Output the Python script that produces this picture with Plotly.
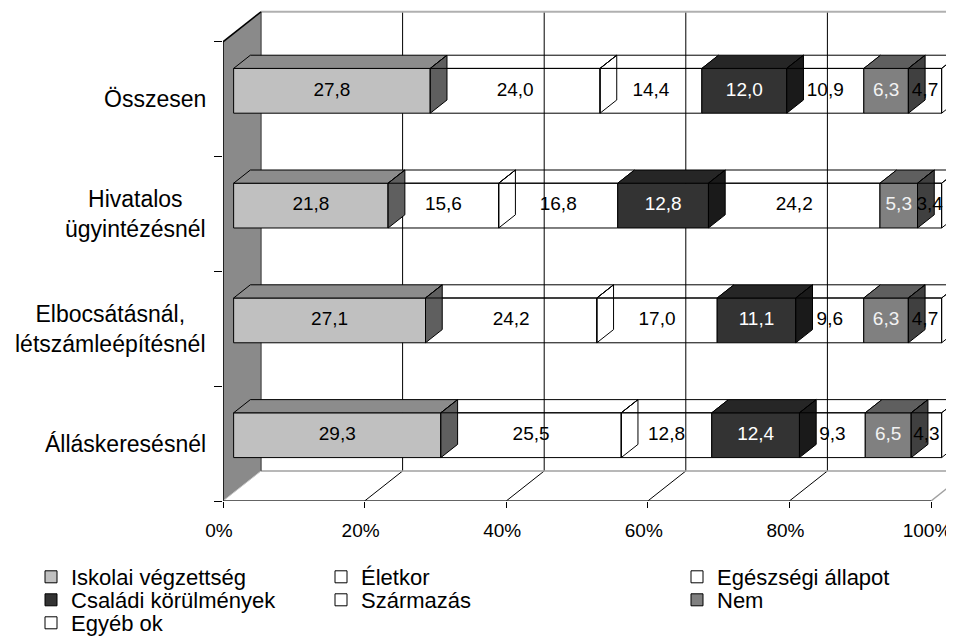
import plotly.graph_objects as go

# ---------------- data ----------------
categories = ["Álláskeresésnél",
              "Elbocsátásnál,<br>létszámleépítésnél",
              "Hivatalos<br>ügyintézésnél",
              "Összesen"]
series_names = ["Iskolai végzettség", "Életkor", "Egészségi állapot",
                "Családi körülmények", "Származás", "Nem", "Egyéb ok"]
iskolai = [29.3, 27.1, 21.8, 27.8]
eletkor = [25.5, 24.2, 15.6, 24.0]
egeszsegi = [12.8, 17.0, 16.8, 14.4]
csaladi = [12.4, 11.1, 12.8, 12.0]
szarmazas = [9.3, 9.6, 24.2, 10.9]
nem = [6.5, 6.3, 5.3, 6.3]
egyeb = [4.3, 4.7, 3.4, 4.7]
x_tick_vals = [0, 20, 40, 60, 80, 100]
x_tick_text = ["0%", "20%", "40%", "60%", "80%", "100%"]

series_values = [iskolai, eletkor, egeszsegi, csaladi, szarmazas, nem, egyeb]

# ---------------- styles ----------------
T = "rgba(255,255,255,0)"
front_col = ["#c0c0c0", T, T, "#333333", T, "#808080", T]
top_col = ["#8c8c8c", T, T, "#262626", T, "#5f5f5f", T]
side_col = ["#5f5f5f", T, T, "#1a1a1a", T, "#404040", T]
opaque = [True, False, False, True, False, True, False]
label_col = ["black", "black", "black", "white", "black", "#f2f2f2", "black"]
FONT = "Liberation Sans, Arial, sans-serif"

# legend placement (screen pixels): text start x, row centre y
legend_text_x = [71, 361, 717, 71, 361, 717, 71]
legend_row_y = [577, 577, 577, 600, 600, 600, 623]

OFF = 8                      # page body margin
W, H = 954 - OFF, 642 - OFF
L = 223 - OFF                # screen x of 0% on the front floor edge
plot_bottom = 501 - OFF      # screen y of the front floor edge
PX_PCT = 7.08                # pixels per percent
PX_CAT = 114.8               # pixels per category band
plot_w = W - L
plot_h = plot_bottom
B = H - plot_bottom
xmax = plot_w / PX_PCT
ymin = -0.5
ymax = ymin + plot_h / PX_CAT

DX = 38 / PX_PCT   # depth shift of the walls in x units
DY = 30 / PX_CAT   # depth shift of the walls in y units
D1, D2 = 0.28, 0.72  # bar front/back depth
HALF = 0.195         # half bar thickness

fig = go.Figure()

n_rows = len(categories)
totals = [sum(s[i] for s in series_values) for i in range(n_rows)]
starts = []
for i in range(n_rows):
    c = 0.0
    row = []
    for s in series_values:
        row.append(c)
        c += s[i] / totals[i] * 100
    starts.append(row)

legend_ids = ["legend"] + [f"legend{j}" for j in range(2, len(series_names) + 1)]

# front faces (bars)
for k, (name, vals) in enumerate(zip(series_names, series_values)):
    xs = [vals[i] / totals[i] * 100 for i in range(n_rows)]
    bases = [starts[i][k] + D1 * DX for i in range(n_rows)]
    ys = [i + D1 * DY for i in range(n_rows)]
    fig.add_trace(go.Bar(
        orientation="h", x=xs, base=bases, y=ys, width=2 * HALF,
        name=name, legend=legend_ids[k],
        marker=dict(color=front_col[k], line=dict(color="black", width=1)),
        hoverinfo="skip",
    ))

# top and side faces
for k, vals in enumerate(series_values):
    tx, ty, sx, sy = [], [], [], []
    for i in range(n_rows):
        a = starts[i][k]
        b = a + vals[i] / totals[i] * 100
        top = i + HALF
        bot = i - HALF
        tx += [a + D1 * DX, b + D1 * DX, b + D2 * DX, a + D2 * DX, a + D1 * DX, None]
        ty += [top + D1 * DY, top + D1 * DY, top + D2 * DY, top + D2 * DY, top + D1 * DY, None]
        if k == len(series_values) - 1 or not opaque[k + 1]:
            sx += [b + D1 * DX, b + D1 * DX, b + D2 * DX, b + D2 * DX, b + D1 * DX, None]
            sy += [bot + D1 * DY, top + D1 * DY, top + D2 * DY, bot + D2 * DY, bot + D1 * DY, None]
    fig.add_trace(go.Scatter(x=tx, y=ty, mode="lines", fill="toself",
                             fillcolor=top_col[k], line=dict(color="black", width=1),
                             showlegend=False, hoverinfo="skip"))
    if sx:
        fig.add_trace(go.Scatter(x=sx, y=sy, mode="lines", fill="toself",
                                 fillcolor=side_col[k], line=dict(color="black", width=1),
                                 showlegend=False, hoverinfo="skip"))

# data labels
for k, vals in enumerate(series_values):
    lx, ly, lt = [], [], []
    for i in range(n_rows):
        a = starts[i][k]
        w = vals[i] / totals[i] * 100
        lx.append(a + w / 2 + D1 * DX)
        ly.append(i + D1 * DY)
        lt.append(f"{vals[i]:.1f}".replace(".", ","))
    fig.add_trace(go.Scatter(x=lx, y=ly, mode="text", text=lt,
                             textfont=dict(family=FONT, size=19, color=label_col[k]),
                             showlegend=False, hoverinfo="skip", cliponaxis=False))

# walls, floor and gridlines
shapes = []
top_y = ymin + 4 + DY
for v in x_tick_vals[1:-1]:
    shapes.append(dict(type="line", xref="x", yref="y", x0=v + DX, x1=v + DX,
                       y0=ymin + DY, y1=top_y, line=dict(color="black", width=1), layer="below"))
    shapes.append(dict(type="line", xref="x", yref="y", x0=v, x1=v + DX,
                       y0=ymin, y1=ymin + DY, line=dict(color="black", width=1), layer="below"))
shapes.append(dict(type="line", xref="x", yref="y", x0=DX, x1=100 + DX, y0=top_y, y1=top_y,
                   line=dict(color="#b0b0b0", width=2), layer="below"))
shapes.append(dict(type="line", xref="x", yref="y", x0=DX, x1=100 + DX, y0=ymin + DY, y1=ymin + DY,
                   line=dict(color="#a0a0a0", width=1.5), layer="below"))
shapes.append(dict(type="line", xref="x", yref="y", x0=100, x1=100 + DX, y0=ymin, y1=ymin + DY,
                   line=dict(color="#a0a0a0", width=1.5), layer="below"))
shapes.append(dict(type="path", xref="x", yref="y",
                   path=f"M 0 {ymin} L {DX} {ymin + DY} L {DX} {top_y} L 0 {ymin + 4} Z",
                   fillcolor="#8a8a8a", line=dict(width=0), layer="below"))
shapes.append(dict(type="line", xref="x", yref="y", x0=DX, x1=DX, y0=ymin + DY, y1=top_y,
                   line=dict(color="#5a5a5a", width=1.5), layer="below"))
shapes.append(dict(type="line", xref="x", yref="y", x0=0, x1=DX, y0=ymin, y1=ymin + DY,
                   line=dict(color="#c8c8c8", width=1), layer="below"))
shapes.append(dict(type="line", xref="x", yref="y", x0=0, x1=0, y0=ymin, y1=ymin + 4,
                   line=dict(color="black", width=1.5), layer="below"))
shapes.append(dict(type="line", xref="x", yref="y", x0=0, x1=DX, y0=ymin + 4, y1=top_y,
                   line=dict(color="black", width=1.5), layer="below"))
shapes.append(dict(type="line", xref="x", yref="y", x0=0, x1=100, y0=ymin, y1=ymin,
                   line=dict(color="#303030", width=1.5), layer="below"))

# category labels
annotations = []
for i, c in enumerate(categories):
    annotations.append(dict(x=0, y=i, xref="x", yref="y", text=c, showarrow=False,
                            xanchor="right", yanchor="middle", align="center", xshift=-15,
                            font=dict(family=FONT, size=23, color="black")))

def px_to_paper_x(px):
    return (px - OFF - L) / plot_w

def px_to_paper_y(py):
    return (plot_h - (py - OFF)) / plot_h

legends = {}
for k, lid in enumerate(legend_ids):
    legends[lid] = dict(orientation="v", yanchor="middle", xanchor="left",
                        x=px_to_paper_x(legend_text_x[k] - 40),
                        y=px_to_paper_y(legend_row_y[k]),
                        font=dict(family=FONT, size=22, color="black"),
                        bgcolor="rgba(0,0,0,0)", borderwidth=0,
                        itemclick=False, itemdoubleclick=False)

fig.update_layout(
    width=W, height=H,
    margin=dict(l=L, r=0, t=0, b=B, autoexpand=False),
    paper_bgcolor="white", plot_bgcolor="white",
    barmode="overlay",
    showlegend=True,
    font=dict(family=FONT, color="black"),
    xaxis=dict(range=[0, xmax], tickvals=x_tick_vals, ticktext=x_tick_text,
               ticks="outside", ticklen=6, tickcolor="black", tickwidth=1,
               showgrid=False, zeroline=False, showline=False,
               tickfont=dict(family=FONT, size=19, color="black"), ticklabelstandoff=6,
               ticklabelshift=-4, ticklabeloverflow="allow", fixedrange=True),
    yaxis=dict(range=[ymin, ymax], tickvals=[-0.5, 0.5, 1.5, 2.5, 3.5],
               ticks="outside", ticklen=8, tickcolor="black", tickwidth=1,
               showticklabels=False, showgrid=False, zeroline=False, showline=False,
               fixedrange=True),
    shapes=shapes,
    annotations=annotations,
    **legends,
)

fig.write_html("out.html")
